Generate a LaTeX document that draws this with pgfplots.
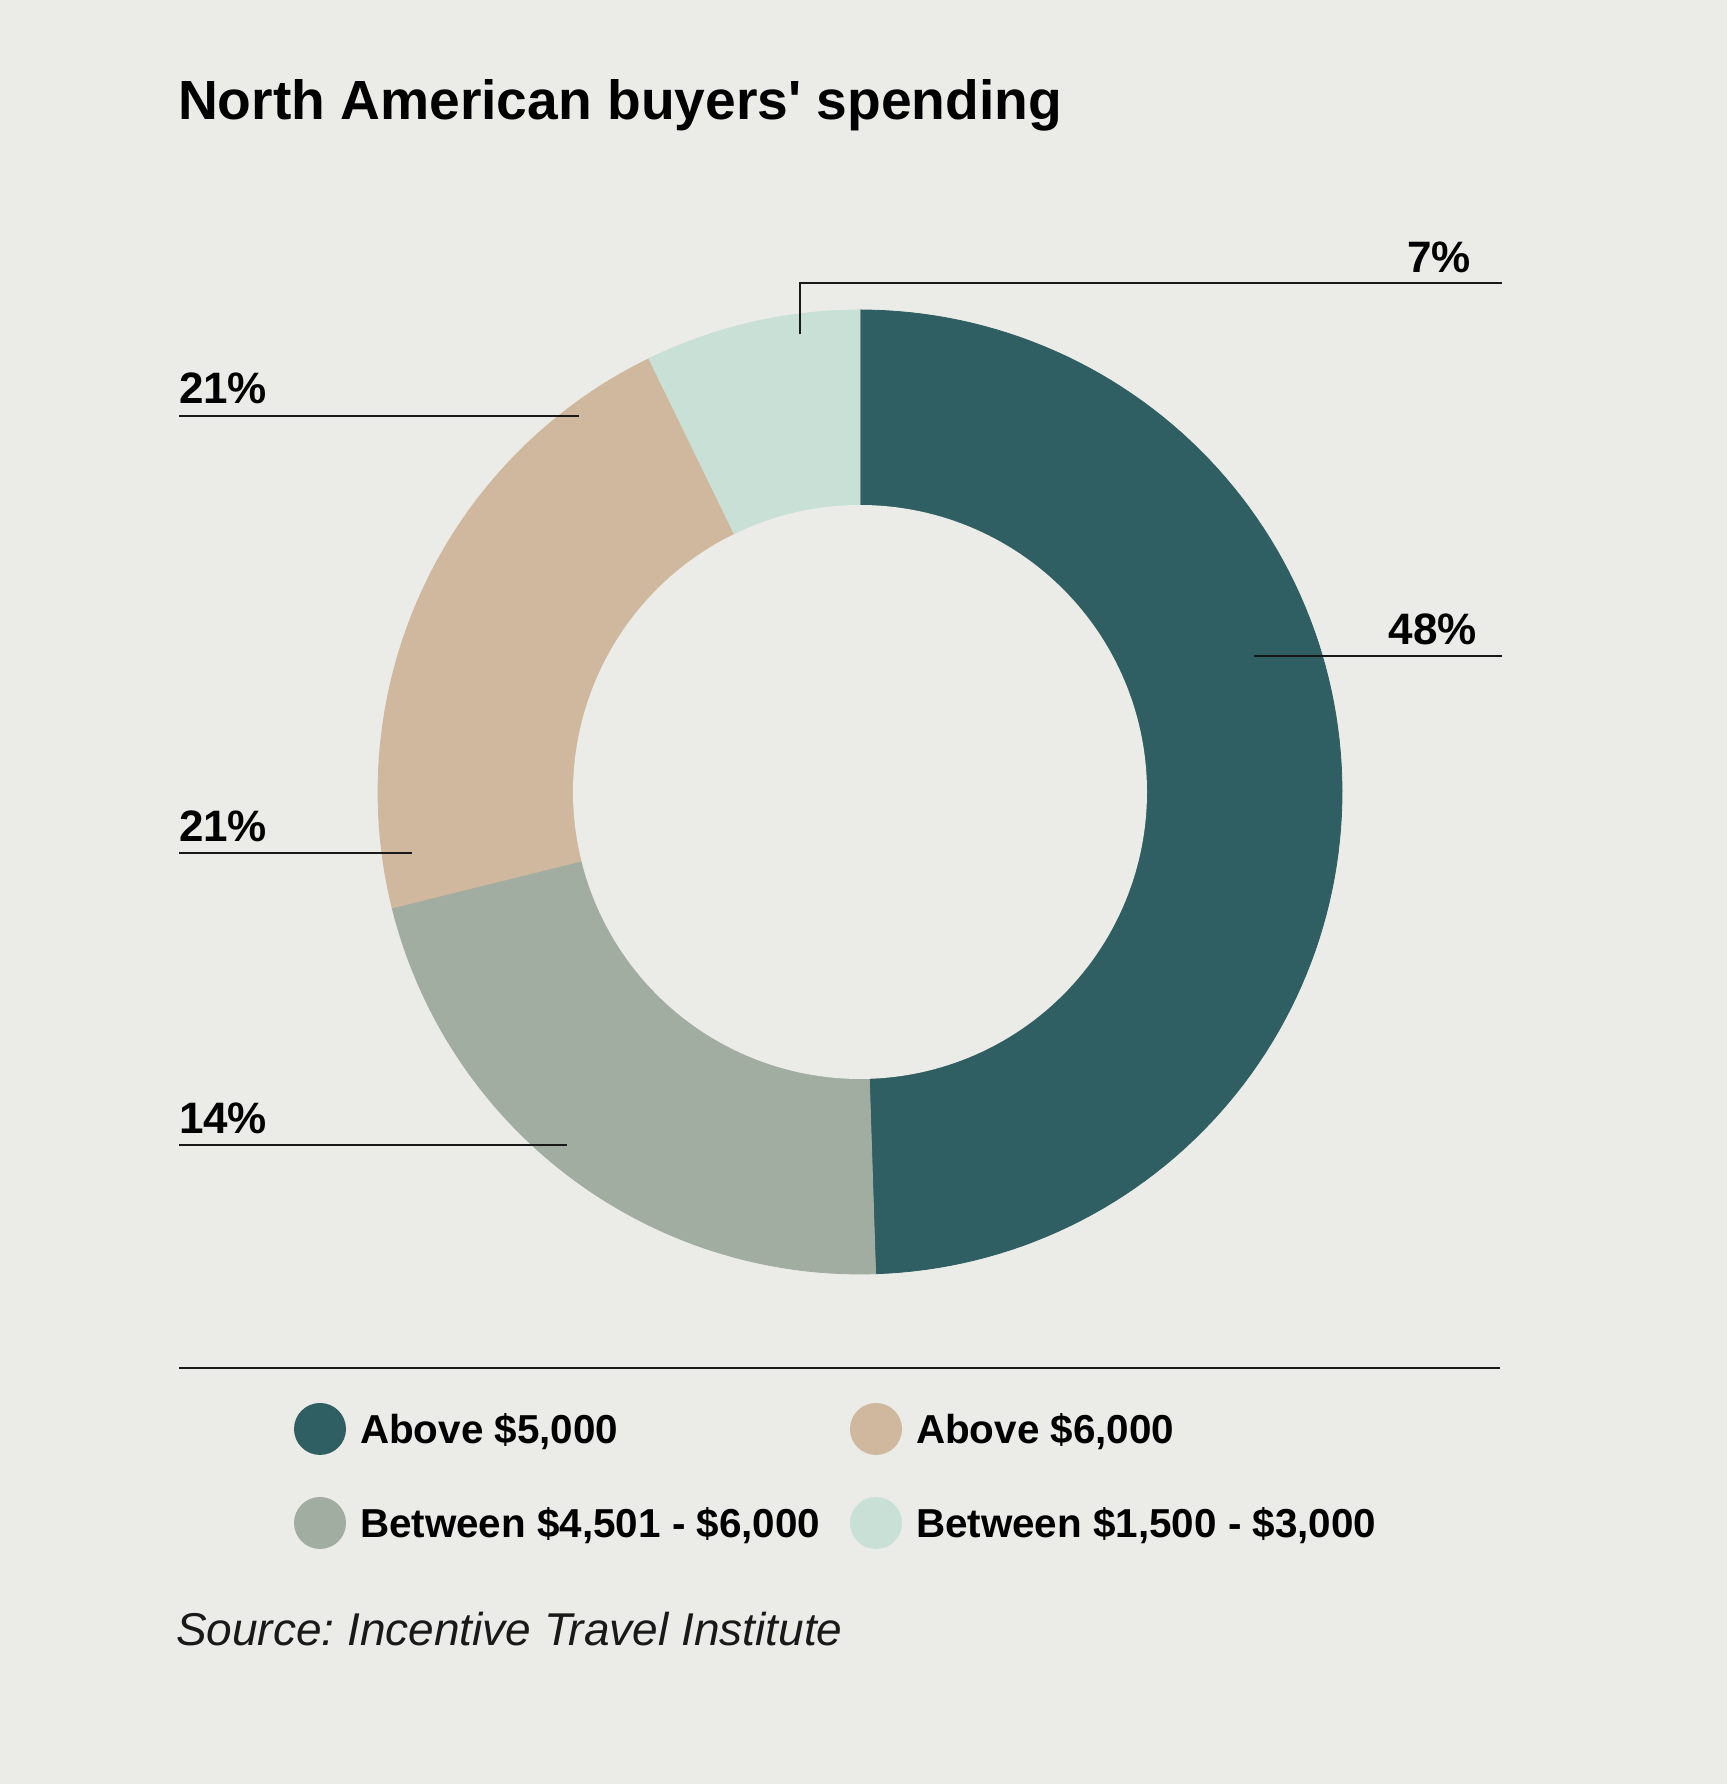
\documentclass[border=0pt]{standalone}
\usepackage{fontspec}
\setmainfont{Liberation Sans}
\usepackage{pgfplots}
\pgfplotsset{compat=1.18}
\definecolor{bg}{RGB}{235,235,231}
\definecolor{cteal}{RGB}{47,95,99}
\definecolor{ctan}{RGB}{207,184,157}
\definecolor{cgray}{RGB}{162,173,161}
\definecolor{cmint}{RGB}{200,224,213}
\definecolor{ink}{RGB}{25,25,25}

% slice values as drawn, clockwise from 12 o'clock
\def\vTeal{48}\def\vGray{21}\def\vTan{21}\def\vMint{7}
\pgfmathsetmacro\tot{\vTeal+\vGray+\vTan+\vMint}
\pgfmathsetmacro\deg{360/\tot}
\pgfmathsetmacro\aA{90}
\pgfmathsetmacro\aB{\aA-\deg*\vTeal}
\pgfmathsetmacro\aC{\aB-\deg*\vGray}
\pgfmathsetmacro\aD{\aC-\deg*\vTan}
\pgfmathsetmacro\aE{\aD-\deg*\vMint}

% ring geometry, in picture pixels
\def\cx{860}\def\cy{992}\def\Rout{482}\def\Rin{287}

\newcommand\pctfont{\fontsize{11}{13}\selectfont\bfseries}
\frenchspacing

\begin{document}
\begin{tikzpicture}[every node/.style={inner sep=0pt, outer sep=0pt}]
\begin{axis}[
  width=431.75pt, height=446pt, scale only axis,
  xmin=0, xmax=1727, ymin=0, ymax=1784,
  axis lines=none, ticks=none, clip=false,
  axis background/.style={fill=bg},
  legend columns=2, legend cell align=left,
  legend image code/.code={\fill[#1, draw=none] (6.5pt,0pt) circle[radius=6.5pt];},
  legend style={draw=none, fill=none, inner sep=0pt, outer sep=0pt,
    at={(0.17024,0.21357)}, anchor=north west,
    font=\fontsize{10.1}{12}\selectfont\bfseries,
    row sep=10.5pt, column sep=0pt,
    /tikz/every odd column/.append style={column sep=3.5pt},
    nodes={inner sep=0pt, text height=7.3pt, text depth=0pt}},
]

% ring slices: wedges, then the hole on top
\addplot[forget plot, fill=cteal, draw=cteal, line width=0.2pt, domain=\aB:\aA, samples=120]
  ({\cx+\Rout*cos(x)}, {\cy+\Rout*sin(x)}) -- (axis cs:\cx,\cy) -- cycle;
\addplot[forget plot, fill=cgray, draw=cgray, line width=0.2pt, domain=\aC:\aB, samples=80]
  ({\cx+\Rout*cos(x)}, {\cy+\Rout*sin(x)}) -- (axis cs:\cx,\cy) -- cycle;
\addplot[forget plot, fill=ctan, draw=ctan, line width=0.2pt, domain=\aD:\aC, samples=80]
  ({\cx+\Rout*cos(x)}, {\cy+\Rout*sin(x)}) -- (axis cs:\cx,\cy) -- cycle;
\addplot[forget plot, fill=cmint, draw=cmint, line width=0.2pt, domain=\aE:\aD, samples=40]
  ({\cx+\Rout*cos(x)}, {\cy+\Rout*sin(x)}) -- (axis cs:\cx,\cy) -- cycle;
\addplot[forget plot, fill=bg, draw=none, domain=0:360, samples=240]
  ({\cx+\Rin*cos(x)}, {\cy+\Rin*sin(x)}) -- cycle;

% legend, in the order of the reference
\addlegendimage{fill=cteal}
\addlegendentry{\makebox[122.5pt][l]{Above \$5,000}}
\addlegendimage{fill=ctan}
\addlegendentry{Above \$6,000}
\addlegendimage{fill=cgray}
\addlegendentry{\makebox[122.5pt][l]{Between \$4,501 - \$6,000}}
\addlegendimage{fill=cmint}
\addlegendentry{Between \$1,500 - \$3,000}

% leader lines and labels
\draw[ink, line width=0.45pt] (axis cs:800,1449.5) -- (axis cs:800,1500.7) -- (axis cs:1502,1500.7);
\node[anchor=base east, font=\pctfont, text=black] at (axis cs:1471,1511) {7\%};
\draw[ink, line width=0.45pt] (axis cs:1254,1128) -- (axis cs:1502,1128);
\node[anchor=base east, font=\pctfont, text=black] at (axis cs:1477,1139) {48\%};
\draw[ink, line width=0.45pt] (axis cs:179,1368) -- (axis cs:579,1368);
\node[anchor=base west, font=\pctfont, text=black] at (axis cs:179,1380) {21\%};
\draw[ink, line width=0.45pt] (axis cs:179,931) -- (axis cs:412,931);
\node[anchor=base west, font=\pctfont, text=black] at (axis cs:179,942) {21\%};
\draw[ink, line width=0.45pt] (axis cs:179,639) -- (axis cs:567,639);
\node[anchor=base west, font=\pctfont, text=black] at (axis cs:179,650) {14\%};

% separator above the legend
\draw[ink, line width=0.65pt] (axis cs:179,416) -- (axis cs:1500,416);

% title and source
\node[anchor=base west, font=\fontsize{13.8}{16}\selectfont\bfseries, text=black]
  at (axis cs:178,1664.5) {North American buyers\textquotesingle\ spending};
\node[anchor=base west, font=\fontsize{11.5}{13}\selectfont\itshape, text=ink]
  at (axis cs:176,138) {Source: Incentive Travel Institute};
\end{axis}
\end{tikzpicture}
\end{document}
